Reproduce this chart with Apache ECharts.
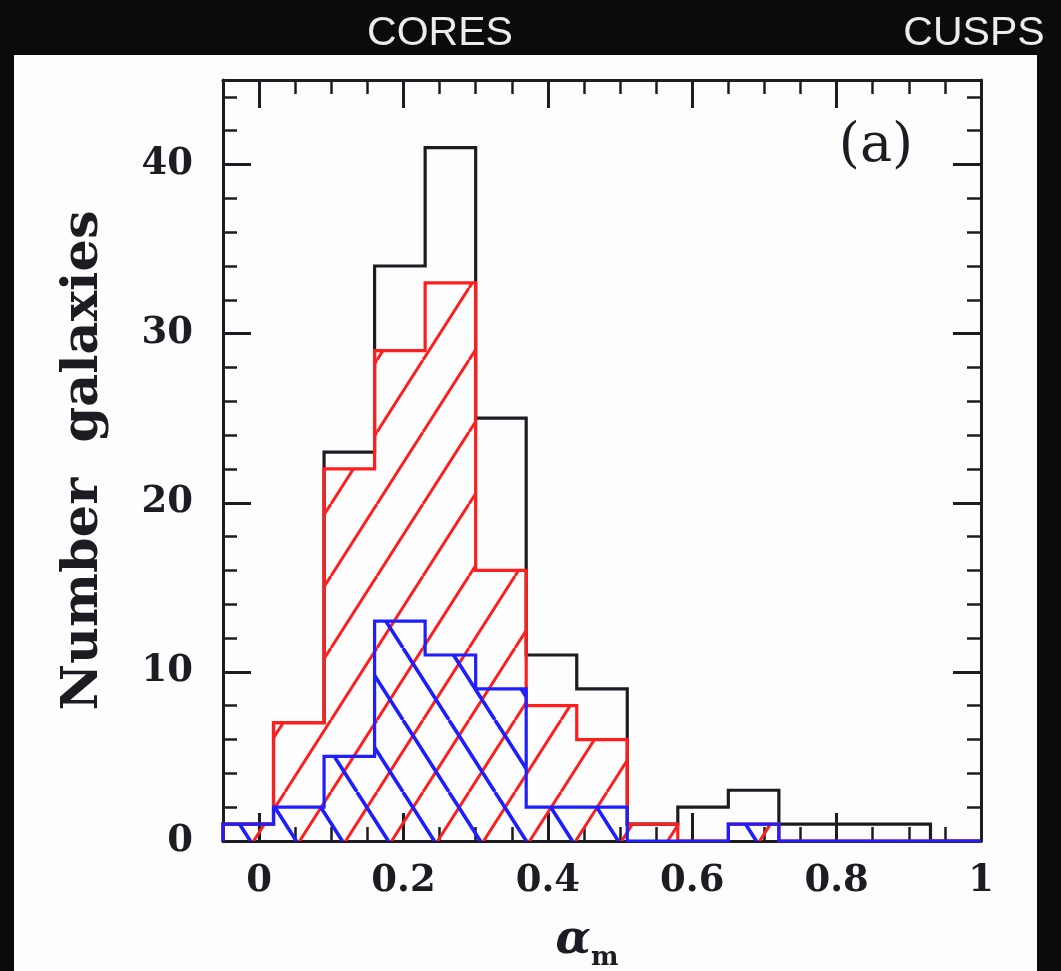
<!DOCTYPE html>
<html>
<head>
<meta charset="utf-8">
<script src="https://cdn.jsdelivr.net/npm/echarts@6/dist/echarts.min.js"></script>
<style>
  html, body { margin: 0; padding: 0; background: #0b0b0d; }
  #chart { width: 1061px; height: 971px; }
</style>
</head>
<body>
<div id="chart"></div>
<script>
// Histogram bins in alpha_m (bin edges) and galaxy counts per bin
const binEdges = [-0.05, 0.02, 0.09, 0.16, 0.23, 0.30, 0.37, 0.44, 0.51, 0.58, 0.65, 0.72, 0.79, 0.86, 0.93, 1.00];
const countsAll  = [1, 7, 23, 34, 41, 25, 11, 9, 1, 2, 3, 1, 1, 1, 0];
const countsRed  = [1, 7, 22, 29, 33, 16, 8, 6, 1, 0, 1, 0, 0, 0, 0];
const countsBlue = [1, 2, 5, 13, 11, 9, 2, 2, 0, 0, 1, 0, 0, 0, 0];

// Axis ranges and tick values
const xRange = [-0.05, 1.0];
const yRange = [0, 45];
const xMajorTicks = [0, 0.2, 0.4, 0.6, 0.8, 1];
const yMajorTicks = [0, 10, 20, 30, 40];
const xMinorStep = 0.05;
const yMinorStep = 2;

const INK = '#1c1c22';
const RED = '#ff1e1e';
const BLUE = '#1e1eff';
const SERIF = '"DejaVu Serif", "Liberation Serif", serif';

// Outline of a histogram: baseline -> steps -> baseline
function stepPath(counts) {
  const pts = [[binEdges[0], 0]];
  counts.forEach(function (c, i) {
    pts.push([binEdges[i], c], [binEdges[i + 1], c]);
  });
  pts.push([binEdges[binEdges.length - 1], 0]);
  return pts;
}

// Repeating tile of diagonal hatch lines ('/' or '\')
function hatchTile(dir, color, lw, phase) {
  const w = 46, h = 72;
  const cv = document.createElement('canvas');
  cv.width = w; cv.height = h;
  const ctx = cv.getContext('2d');
  ctx.strokeStyle = color;
  ctx.lineWidth = lw;
  ctx.beginPath();
  for (let k = -2; k <= 3; k++) {
    const x0 = phase + k * w;
    if (dir === '/') { ctx.moveTo(x0, 0); ctx.lineTo(x0 - w, h); }
    else { ctx.moveTo(x0, 0); ctx.lineTo(x0 + w, h); }
  }
  ctx.stroke();
  return { image: cv, repeat: 'repeat' };
}

const redHatch = hatchTile('/', RED, 3, 9);
const blueHatch = hatchTile('\\', BLUE, 3.6, 35);

function xAxisPair(position, withLabels) {
  return [
    {
      type: 'value', position: position, min: xRange[0], max: xRange[1], interval: xMinorStep,
      axisLine: { show: true, onZero: false, lineStyle: { color: INK, width: 3 } },
      axisTick: { show: true, inside: true, length: 14, lineStyle: { color: INK, width: 2.5 } },
      axisLabel: { show: false }, splitLine: { show: false }
    },
    {
      type: 'value', position: position, min: xRange[0], max: xRange[1],
      axisLine: { show: false, onZero: false },
      axisTick: { show: true, inside: true, length: 28, customValues: xMajorTicks, lineStyle: { color: INK, width: 3 } },
      axisLabel: {
        show: withLabels, customValues: xMajorTicks, margin: 22,
        fontFamily: SERIF, fontWeight: 'bold', fontSize: 37, color: INK
      },
      splitLine: { show: false },
      name: withLabels ? '{a|α}{m|m}' : '',
      nameLocation: 'middle', nameGap: 70,
      nameTextStyle: {
        padding: [0, 30, 0, 0],
        rich: {
          a: { fontFamily: SERIF, fontStyle: 'italic', fontWeight: 'bold', fontSize: 46, color: INK },
          m: { fontFamily: SERIF, fontWeight: 'bold', fontSize: 26, color: INK, padding: [34, 0, 0, 0] }
        }
      }
    }
  ];
}

function yAxisPair(position, withLabels) {
  return [
    {
      type: 'value', position: position, min: yRange[0], max: yRange[1], interval: yMinorStep,
      axisLine: { show: true, onZero: false, lineStyle: { color: INK, width: 3 } },
      axisTick: { show: true, inside: true, length: 14, lineStyle: { color: INK, width: 2.5 } },
      axisLabel: { show: false }, splitLine: { show: false }
    },
    {
      type: 'value', position: position, min: yRange[0], max: yRange[1],
      axisLine: { show: false, onZero: false },
      axisTick: { show: true, inside: true, length: 28, customValues: yMajorTicks, lineStyle: { color: INK, width: 3 } },
      axisLabel: {
        show: withLabels, customValues: yMajorTicks, margin: 30,
        fontFamily: SERIF, fontWeight: 'bold', fontSize: 37, color: INK
      },
      splitLine: { show: false },
      name: withLabels ? 'Number  galaxies' : '',
      nameLocation: 'middle', nameGap: 114,
      nameTextStyle: { fontFamily: SERIF, fontWeight: 'bold', fontSize: 51, color: INK }
    }
  ];
}

const xAxes = xAxisPair('bottom', true).concat(xAxisPair('top', false));
const yAxes = yAxisPair('left', true).concat(yAxisPair('right', false));

function histSeries(name, counts, color, hatch, z) {
  return {
    name: name, type: 'line', data: stepPath(counts),
    xAxisIndex: 0, yAxisIndex: 0,
    showSymbol: false, symbol: 'none', smooth: false,
    lineStyle: { color: color, width: 3.2, join: 'miter' },
    areaStyle: hatch ? { color: hatch, opacity: 1 } : undefined,
    z: z, silent: true, animation: false
  };
}

const chart = echarts.init(document.getElementById('chart'), null, { renderer: 'canvas' });
chart.setOption({
  backgroundColor: '#0b0b0d',
  animation: false,
  grid: { left: 223, right: 80, top: 80, bottom: 130, containLabel: false, outerBoundsMode: 'none' },
  xAxis: xAxes,
  yAxis: yAxes,
  graphic: [
    { type: 'rect', z: -100, silent: true, shape: { x: 14, y: 55, width: 1023, height: 916 }, style: { fill: '#fdfdfd' } },
    { type: 'text', x: 440, y: 34, silent: true,
      style: { text: 'CORES', fill: '#ececec', font: '41px "Liberation Sans", Arial, sans-serif', textAlign: 'center', textVerticalAlign: 'middle' } },
    { type: 'text', x: 974, y: 34, silent: true,
      style: { text: 'CUSPS', fill: '#ececec', font: '41px "Liberation Sans", Arial, sans-serif', textAlign: 'center', textVerticalAlign: 'middle' } },
    { type: 'text', x: 876, y: 147, z: 10, silent: true,
      style: { text: '(a)', fill: INK, font: '54px "DejaVu Serif", serif', textAlign: 'center', textVerticalAlign: 'middle' } }
  ],
  series: [
    histSeries('all', countsAll, INK, null, 2),
    histSeries('red', countsRed, RED, redHatch, 3),
    histSeries('blue', countsBlue, BLUE, blueHatch, 4)
  ]
});
</script>
</body>
</html>
